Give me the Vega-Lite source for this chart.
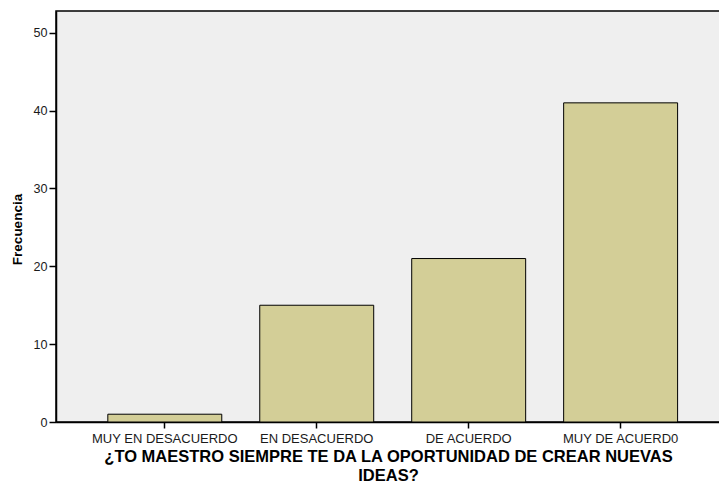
{
  "$schema": "https://vega.github.io/schema/vega-lite/v6.json",
  "width": 664,
  "height": 411,
  "autosize": {"type": "none"},
  "padding": {"left": 56, "top": 11, "right": 0, "bottom": 65},
  "background": "white",
  "config": {
    "view": {"fill": "#EFEFEF", "stroke": "#000000", "strokeWidth": 1.5},
    "font": "Liberation Sans"
  },
  "data": {
    "values": [
      {"categoria": "MUY EN DESACUERDO", "frecuencia": 1},
      {"categoria": "EN DESACUERDO", "frecuencia": 15},
      {"categoria": "DE ACUERDO", "frecuencia": 21},
      {"categoria": "MUY DE ACUERD0", "frecuencia": 41}
    ]
  },
  "mark": {"type": "bar", "fill": "#D3CE97", "stroke": "#000000", "strokeWidth": 1},
  "encoding": {
    "x": {
      "field": "categoria",
      "type": "nominal",
      "sort": null,
      "scale": {"paddingInner": 0.25, "paddingOuter": 0.31, "align": 0.55},
      "axis": {
        "title": ["¿TO MAESTRO SIEMPRE TE DA LA OPORTUNIDAD DE CREAR NUEVAS", "IDEAS?"],
        "titleFont": "Liberation Sans",
        "titleFontSize": 16.5,
        "titleFontWeight": "bold",
        "titleColor": "#000000",
        "titlePadding": 3,
        "titleLineHeight": 19,
        "labelAngle": 0,
        "labelFontSize": 13,
        "labelColor": "#1a1a1a",
        "labelPadding": 4,
        "tickColor": "#000000",
        "tickSize": 6,
        "tickWidth": 1.5,
        "domainColor": "#000000",
        "domainWidth": 1.5,
        "grid": false
      }
    },
    "y": {
      "field": "frecuencia",
      "type": "quantitative",
      "scale": {"domain": [0, 52.8], "nice": false},
      "axis": {
        "title": "Frecuencia",
        "titleFontSize": 13.5,
        "titleFontWeight": "bold",
        "titleColor": "#000000",
        "titlePadding": 8,
        "titleY": 218,
        "values": [0, 10, 20, 30, 40, 50],
        "labelFontSize": 12.6,
        "labelColor": "#1a1a1a",
        "labelPadding": 2,
        "tickColor": "#000000",
        "tickSize": 7,
        "tickWidth": 1.5,
        "domainColor": "#000000",
        "domainWidth": 1.5,
        "grid": false
      }
    }
  }
}
